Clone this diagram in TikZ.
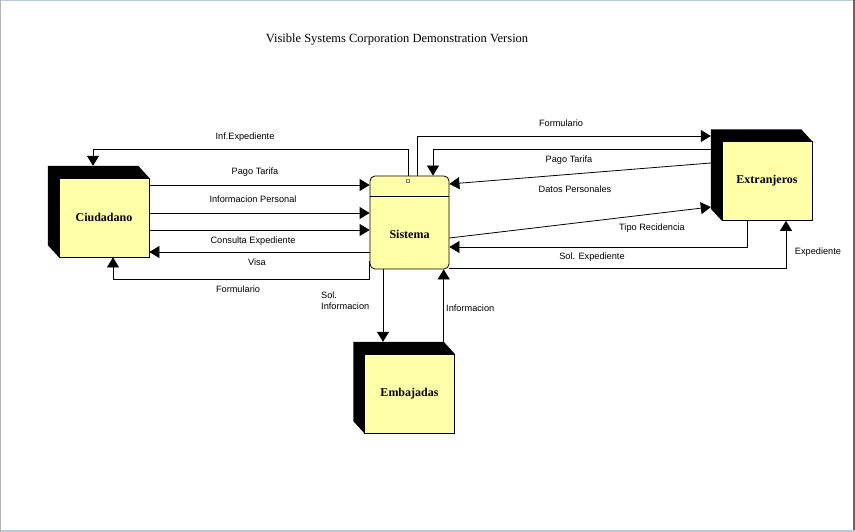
\documentclass[tikz,border=0pt]{standalone}
\usepackage{fontspec}
\setmainfont{Liberation Serif}
\setsansfont{Liberation Sans}
\usetikzlibrary{arrows.meta,positioning,calc}
\definecolor{entfill}{RGB}{255,255,168}
\definecolor{frameblue}{RGB}{185,201,219}
\tikzset{
  entbox/.style={draw, fill=entfill, line width=0.8pt,
    minimum width=90pt, minimum height=79pt, inner sep=0pt,
    font=\bfseries\fontsize{12}{14}\selectfont},
  entback/.style={minimum width=90pt, minimum height=79pt, inner sep=0pt},
  procbox/.style={draw, fill=entfill, rounded corners=5pt, line width=0.8pt,
    minimum width=79pt, minimum height=93pt, inner sep=0pt},
  flow/.style={-{Triangle[length=10pt,width=12pt]}, line width=0.8pt},
  flowlbl/.style={font=\sffamily\fontsize{9.2}{11}\selectfont, inner sep=1pt},
}
% external entity: black back face, yellow front face
\newcommand{\extent}[4]{%
  \node[entback] (#1b) at (#2-11,#3-12) {};
  \fill (#1b.north west) -- (#1b.north east) -- ++(11,12)
    -- ($(#1b.south west)+(11,12)$) -- (#1b.south west) -- cycle;
  \node[entbox] (#1) at (#2,#3) {#4};
}

\begin{document}
\begin{tikzpicture}[x=1pt, y=-1pt]
  \useasboundingbox (0,0) rectangle (855,532);
  \fill[frameblue] (0,0) rectangle (855,1.5);
  \fill[frameblue] (0,529.5) rectangle (855,532);
  \fill[gray!60] (0,0) rectangle (1.3,532);
  \fill[gray!80!black] (853,0) rectangle (855,530);

  \node[font=\fontsize{12.5}{14}\selectfont] (title) at (397,39.5)
    {Visible Systems Corporation Demonstration Version};

  \extent{ciu}{104}{217.5}{Ciudadano}
  \extent{ext}{767}{181}{Extranjeros}
  \extent{emb}{409.5}{393.5}{Embajadas}

  \node[procbox] (sis) at (409.5,222.5) {};
  \draw[line width=0.8pt] (sis.west |- 0,196) -- (sis.east |- 0,196);
  \node[draw=gray, line width=0.3pt, minimum size=3pt, inner sep=0pt] (sismark) at (408,181) {};
  \node[font=\bfseries\fontsize{12}{14}\selectfont] (sislbl) at (409.5,234) {Sistema};

  % Ciudadano <-> Sistema
  \draw[flow] ([xshift=-1.5pt]sis.north) -- ++(0,-26) -| (ciub.north);
  \foreach \y in {185,213,230} {
    \draw[flow] (ciu.east |- 0,\y) -- (sis.west |- 0,\y);
  }
  \draw[flow] (sis.west |- 0,252) -- (ciu.east |- 0,252);
  \draw[flow] (sis.west |- 0,261) -- ++(0,18) -| ([xshift=9pt]ciu.south);

  % Sistema <-> Extranjeros
  \draw[flow] ([xshift=7.5pt]sis.north) |- (extb.west |- 0,136);
  \draw[flow] (extb.west |- 0,149) -| ([xshift=23.5pt]sis.north);
  \draw[flow] (extb.west |- 0,163) -- (sis.east |- 0,184);
  \draw[flow] (sis.east |- 0,238) -- (extb.west |- 0,207);
  \draw[flow] ([xshift=-20pt]ext.south) |- (sis.east |- 0,247);
  \draw[flow] (sis.east |- 0,268) -| ([xshift=19pt]ext.south);

  % Sistema <-> Embajadas
  \draw[flow] ([xshift=-26.5pt]sis.south) -- ([xshift=-26.5pt]sis.south |- embb.north);
  \draw[flow] (embb.north east) -- (embb.north east |- sis.south);

  \node[flowlbl] (l1) at (245,137) {Inf.Expediente};
  \node[flowlbl] (l2) at (255,172) {Pago Tarifa};
  \node[flowlbl] (l3) at (253,199) {Informacion Personal};
  \node[flowlbl] (l4) at (253,241) {Consulta Expediente};
  \node[flowlbl] (l5) at (257,262) {Visa};
  \node[flowlbl] (l6) at (238,289) {Formulario};
  \node[flowlbl] (l7) at (561,123) {Formulario};
  \node[flowlbl] (l8) at (569,160) {Pago Tarifa};
  \node[flowlbl] (l9) at (575,189) {Datos Personales};
  \node[flowlbl] (l10) at (652,228) {Tipo Recidencia};
  \node[flowlbl] (l11) at (592,257) {Sol. Expediente};
  \node[flowlbl] (l12) at (818,252) {Expediente};
  \node[flowlbl, align=left, anchor=west] (l13) at (320,300.5) {Sol.\\Informacion};
  \node[flowlbl, anchor=west] (l14) at (445,308) {Informacion};
\end{tikzpicture}
\end{document}
